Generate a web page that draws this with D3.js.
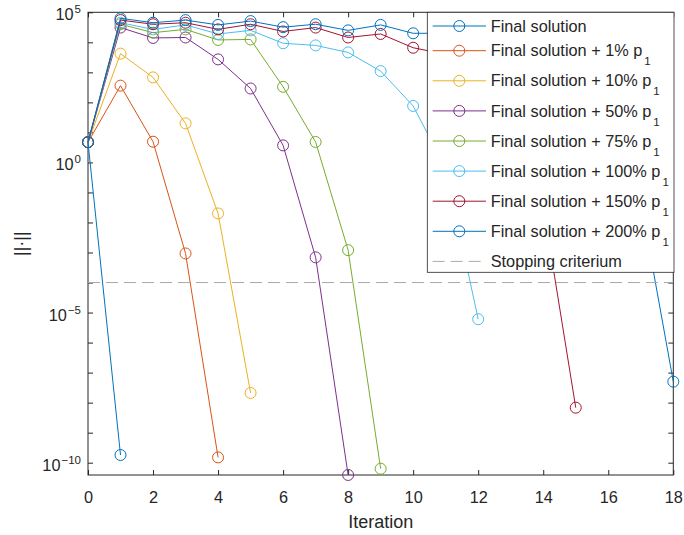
<!DOCTYPE html>
<html lang="en">
<head>
<meta charset="UTF-8">
<title>Convergence</title>
<script src="https://d3js.org/d3.v7.min.js"></script>
<style>
    body { margin: 0; background: #fff; }
    svg { display: block; font-family: "Liberation Sans", Arial, sans-serif; }
    .tick line { stroke: #262626; }
</style>
</head>
<body>
<svg width="684" height="535"></svg>
<script>
// values of ||.|| per iteration (index = iteration)
const finalSolution = [4.7, 1.8e-10];
const plus1   = [4.7, 360, 4.9, 9.3e-4, 1.5e-10];
const plus10  = [4.7, 4200, 680, 20, 0.02, 2.1e-8];
const plus50  = [4.7, 3.1e4, 1.4e4, 1.45e4, 2.7e3, 290, 3.7, 6.9e-4, 3.9e-11];
const plus75  = [4.7, 4.0e4, 2.1e4, 2.7e4, 1.2e4, 1.25e4, 330, 4.8, 1.2e-3, 6.3e-11];
const plus100 = [4.7, 4.5e4, 2.7e4, 3.8e4, 1.9e4, 2.5e4, 9.3e3, 7.9e3, 4.6e3, 1.1e3, 76, 0.63, 6.0e-6];
const plus150 = [4.7, 5.5e4, 4.0e4, 4.5e4, 2.7e4, 4.0e4, 2.3e4, 3.1e4, 1.45e4, 1.9e4, 6.6e3, 4.0e3, 1.6e3, 100, 0.035, 6.8e-9];
const plus200 = [4.7, 6.3e4, 4.5e4, 5.5e4, 3.8e4, 5.1e4, 3.2e4, 4.0e4, 2.5e4, 3.8e4, 2.0e4, 2.0e4, 1.6e4, 1.2e4, 8.0e3, 3.0e3, 600, 0.05, 5.0e-8];
const stoppingCriterium = 1e-4;

const seriesNames = ["Final solution", "Final solution + 1% p", "Final solution + 10% p", "Final solution + 50% p",
    "Final solution + 75% p", "Final solution + 100% p", "Final solution + 150% p", "Final solution + 200% p"];
const seriesColors = ["#0072BD", "#D95319", "#EDB120", "#7E2F8E", "#77AC30", "#4DBEEE", "#A2142F", "#0072BD"];
const seriesValues = [finalSolution, plus1, plus10, plus50, plus75, plus100, plus150, plus200];

const xTicks = [0, 2, 4, 6, 8, 10, 12, 14, 16, 18];
const yTickExps = d3.range(-10, 6);
const yLabelExps = [5, 0, -5, -10];

const plotLeft = 88, plotRight = 673.3, plotTop = 12.3, plotBottom = 475;
const ink = "#262626";

let svg = d3.select("svg");

let x = d3.scaleLinear().domain([0, 18]).range([plotLeft, plotRight]);
let y = d3.scaleLog().domain([Math.pow(10, -10.41), 1e5]).range([plotBottom, plotTop]);

// axes (ticks point inward, mirrored on top/right)
let xAxis = svg.append("g")
    .attr("transform", `translate(0,${plotBottom})`)
    .call(d3.axisBottom(x).tickValues(xTicks).tickSize(-5).tickSizeOuter(0).tickPadding(16.6));
xAxis.select(".domain").remove();
xAxis.selectAll("text").attr("fill", ink).style("font-size", "16.3px");

svg.append("g")
    .attr("transform", `translate(0,${plotTop})`)
    .call(d3.axisTop(x).tickValues(xTicks).tickSize(-5).tickFormat(""))
    .select(".domain").remove();

let yTicks = yTickExps.map(e => Math.pow(10, e));
svg.append("g")
    .attr("transform", `translate(${plotLeft},0)`)
    .call(d3.axisLeft(y).tickValues(yTicks).tickSize(-5).tickFormat(""))
    .select(".domain").remove();
svg.append("g")
    .attr("transform", `translate(${plotRight},0)`)
    .call(d3.axisRight(y).tickValues(yTicks).tickSize(-5).tickFormat(""))
    .select(".domain").remove();

let yLab = svg.append("g").selectAll("text")
    .data(yLabelExps)
    .enter().append("text")
    .attr("x", 81)
    .attr("y", e => y(Math.pow(10, e)) + 8)
    .attr("text-anchor", "end")
    .attr("fill", ink)
    .style("font-size", "16.3px")
    .text("10");
yLab.append("tspan")
    .attr("dx", 1)
    .attr("dy", -7)
    .style("font-size", "11.5px")
    .text(e => e < 0 ? "\u2212" + (-e) : e);

svg.append("rect")
    .attr("x", plotLeft).attr("y", plotTop)
    .attr("width", plotRight - plotLeft).attr("height", plotBottom - plotTop)
    .attr("fill", "none").attr("stroke", ink).attr("stroke-width", 1);

// axis titles
svg.append("text")
    .attr("x", (plotLeft + plotRight) / 2).attr("y", 528)
    .attr("text-anchor", "middle").attr("fill", ink)
    .style("font-size", "18px")
    .text("Iteration");
svg.append("text")
    .attr("transform", `translate(27,${(plotTop + plotBottom) / 2}) rotate(-90)`)
    .attr("text-anchor", "middle").attr("fill", ink)
    .style("font-size", "18px")
    .text("||·||");

// series
let line = d3.line().x((d, i) => x(i)).y(d => y(d));
seriesValues.forEach((vals, k) => {
    let g = svg.append("g");
    g.append("path")
        .datum(vals)
        .attr("d", line)
        .attr("fill", "none")
        .attr("stroke", seriesColors[k])
        .attr("stroke-width", 1);
    g.selectAll("circle")
        .data(vals)
        .enter().append("circle")
        .attr("cx", (d, i) => x(i))
        .attr("cy", d => y(d))
        .attr("r", 5.5)
        .attr("fill", "none")
        .attr("stroke", seriesColors[k])
        .attr("stroke-width", 1);
});

svg.append("line")
    .attr("x1", plotLeft).attr("x2", plotRight)
    .attr("y1", y(stoppingCriterium)).attr("y2", y(stoppingCriterium))
    .attr("stroke", "#aaaaaa").attr("stroke-width", 1)
    .attr("stroke-dasharray", "12,6");

// legend
let legend = svg.append("g");
legend.append("rect")
    .attr("x", 427.3).attr("y", 12.3)
    .attr("width", 674 - 427.3).attr("height", 272.3 - 12.3)
    .attr("fill", "#fff").attr("stroke", ink).attr("stroke-width", 0.8);

let rowY = k => k === 0 ? 26 : 50.7 + 30.1 * (k - 1);
seriesNames.forEach((name, k) => {
    let ry = rowY(k);
    legend.append("line")
        .attr("x1", 432.7).attr("x2", 486).attr("y1", ry).attr("y2", ry)
        .attr("stroke", seriesColors[k]).attr("stroke-width", 1);
    legend.append("circle")
        .attr("cx", 459.3).attr("cy", ry).attr("r", 5.5)
        .attr("fill", "none").attr("stroke", seriesColors[k]);
    let t = legend.append("text")
        .attr("x", 490.7).attr("y", ry + 5.6)
        .attr("fill", ink).style("font-size", "16.3px")
        .text(name);
    if (k > 0) {
        t.append("tspan").attr("dx", 2).attr("dy", 9).style("font-size", "11.5px").text("1");
    }
});
let sy = rowY(8);
legend.append("line")
    .attr("x1", 432.7).attr("x2", 486).attr("y1", sy).attr("y2", sy)
    .attr("stroke", "#aaaaaa").attr("stroke-dasharray", "12,6");
legend.append("text")
    .attr("x", 490.7).attr("y", sy + 5.6)
    .attr("fill", ink).style("font-size", "16.3px")
    .text("Stopping criterium");
</script>
</body>
</html>
